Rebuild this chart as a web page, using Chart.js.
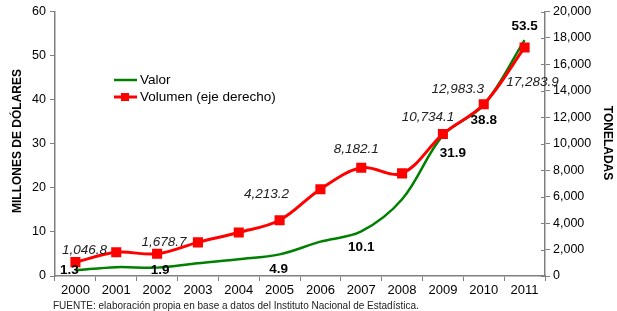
<!DOCTYPE html>
<html>
<head>
<meta charset="utf-8">
<script src="https://cdn.jsdelivr.net/npm/chart.js@4"></script>
<style>
  html, body { margin: 0; padding: 0; background: #fff; }
  #wrap { width: 617px; height: 311px; position: relative; }
</style>
</head>
<body>
<div id="wrap"><canvas id="myChart" width="617" height="311"></canvas></div>
<script>
(() => {
  'use strict';

  // Datos
  const years = ['2000', '2001', '2002', '2003', '2004', '2005', '2006', '2007', '2008', '2009', '2010', '2011'];
  const valor = [1.3, 2.0, 1.9, 2.9, 3.8, 4.9, 7.8, 10.1, 17.4, 31.9, 38.8, 53.5];
  const volumen = [1046.8, 1790, 1678.7, 2540, 3290, 4213.2, 6560, 8182.1, 7760, 10734.1, 12983.3, 17283.9];
  const labeledYears = ['2000', '2002', '2005', '2007', '2009', '2010', '2011'];

  const FONT = '"Liberation Sans", Arial, sans-serif';
  const AXIS = '#808080';

  // desplazamiento de las etiquetas respecto al punto
  const valorOffsets = { '2000': [-6, 0], '2002': [3, 3], '2005': [-1, 15], '2007': [0, 16], '2009': [10, 18], '2010': [0, 15], '2011': [0, -14] };
  const volOffsets = { '2000': [9, -12], '2002': [7, -12], '2005': [-13, -26], '2007': [-5, -19], '2009': [-15, -17], '2010': [-26, -15], '2011': [8, 35] };

  const fmt = (v) => v.toLocaleString('en-US', { minimumFractionDigits: 1, maximumFractionDigits: 1 });

  const extras = {
    id: 'extras',
    afterDraw(chart) {
      const c = chart.ctx;
      c.save();

      // marcas interiores del eje derecho
      const y1 = chart.scales.y1;
      c.strokeStyle = AXIS;
      c.lineWidth = 1;
      y1.ticks.forEach(t => {
        const py = Math.round(y1.getPixelForValue(t.value)) + 0.5;
        c.beginPath(); c.moveTo(y1.left - 4, py); c.lineTo(y1.left, py); c.stroke();
      });

      c.textAlign = 'center';
      c.textBaseline = 'middle';
      c.fillStyle = '#000';

      // etiquetas de valor
      const mv = chart.getDatasetMeta(1);
      c.font = 'bold 13.5px ' + FONT;
      labeledYears.forEach(y => {
        const i = years.indexOf(y);
        const p = mv.data[i];
        const o = valorOffsets[y];
        c.fillText(valor[i].toFixed(1), p.x + o[0], p.y + o[1]);
      });

      // etiquetas de volumen
      const mt = chart.getDatasetMeta(0);
      c.font = 'italic 13.5px ' + FONT;
      c.fillStyle = '#222';
      labeledYears.forEach(y => {
        const i = years.indexOf(y);
        const p = mt.data[i];
        const o = volOffsets[y];
        c.fillText(fmt(volumen[i]), p.x + o[0], p.y + o[1]);
      });

      // leyenda
      c.textAlign = 'left';
      c.font = '13.5px ' + FONT;
      c.fillStyle = '#000';
      c.lineWidth = 2.5;
      c.strokeStyle = '#008000';
      c.beginPath(); c.moveTo(114, 80); c.lineTo(137, 80); c.stroke();
      c.fillText('Valor', 140, 80);
      c.lineWidth = 3;
      c.strokeStyle = '#ff0000';
      c.beginPath(); c.moveTo(114, 97); c.lineTo(137, 97); c.stroke();
      c.fillStyle = '#ff0000';
      c.fillRect(121, 93, 8, 8);
      c.fillStyle = '#000';
      c.fillText('Volumen (eje derecho)', 140, 97);

      // títulos de ejes
      c.font = 'bold 12px ' + FONT;
      c.textAlign = 'center';
      c.save();
      c.translate(18, 141);
      c.rotate(-Math.PI / 2);
      c.fillText('MILLONES DE DÓLARES', 0, 0);
      c.restore();
      c.save();
      c.translate(607, 143);
      c.rotate(Math.PI / 2);
      c.fillText('TONELADAS', 0, 0);
      c.restore();

      // fuente
      c.textAlign = 'left';
      c.font = '10px ' + FONT;
      c.fillStyle = '#222';
      c.fillText('FUENTE: elaboración propia en base a datos del Instituto Nacional de Estadística.', 53, 306);
      c.restore();
    }
  };

  new Chart(document.getElementById('myChart'), {
    type: 'line',
    data: {
      labels: years,
      datasets: [{
        label: 'Volumen (eje derecho)',
        data: volumen,
        yAxisID: 'y1',
        borderColor: '#ff0000',
        backgroundColor: '#ff0000',
        borderWidth: 3,
        tension: 0.35,
        pointStyle: 'rect',
        pointRadius: 5,
        pointHoverRadius: 5,
        order: 0
      }, {
        label: 'Valor',
        data: valor,
        yAxisID: 'y',
        borderColor: '#008000',
        backgroundColor: '#008000',
        borderWidth: 2.5,
        tension: 0.35,
        pointRadius: 0,
        order: 1
      }]
    },
    options: {
      responsive: false,
      animation: false,
      layout: { padding: { top: 8, left: 0, right: 0, bottom: 0 } },
      plugins: {
        legend: { display: false },
        tooltip: { enabled: false }
      },
      scales: {
        x: {
          offset: true,
          afterFit: (s) => { s.height = 35; },
          border: { color: AXIS, width: 1.5 },
          grid: { drawOnChartArea: false, color: AXIS, tickLength: 5, offset: true },
          ticks: { color: '#000', font: { family: FONT, size: 13 }, padding: 2, maxRotation: 0 }
        },
        y: {
          position: 'left',
          min: 0, max: 60,
          afterFit: (s) => { s.width = 55; },
          border: { color: AXIS, width: 1.5 },
          grid: { drawOnChartArea: false, color: AXIS, tickLength: 5 },
          ticks: { stepSize: 10, color: '#000', font: { family: FONT, size: 12.5 }, padding: 4 }
        },
        y1: {
          position: 'right',
          min: 0, max: 20000,
          afterFit: (s) => { s.width = 72; },
          border: { color: AXIS, width: 1.5 },
          grid: { drawOnChartArea: false, color: AXIS, tickLength: 5 },
          ticks: {
            stepSize: 2000, color: '#000', font: { family: FONT, size: 12.5 }, padding: 3,
            callback: (v) => v.toLocaleString('en-US')
          }
        }
      }
    },
    plugins: [extras]
  });
})();
</script>
</body>
</html>
